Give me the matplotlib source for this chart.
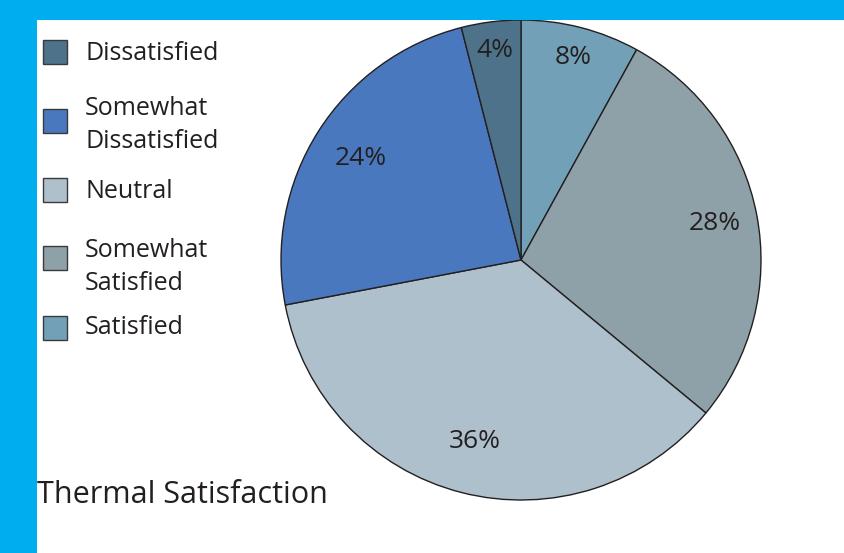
import matplotlib
matplotlib.use("Agg")
import matplotlib.pyplot as plt
from matplotlib.patches import Rectangle
import numpy as np

W, H = 844, 553
DPI = 100

# data (clockwise from top)
categories = ["Satisfied", "Somewhat Satisfied", "Neutral", "Somewhat Dissatisfied", "Dissatisfied"]
values = [8, 28, 36, 24, 4]
colors = ["#72a0b6", "#8fa1a8", "#adc0cc", "#4a78bf", "#4e7289"]

legend_order = ["Dissatisfied", "Somewhat\nDissatisfied", "Neutral", "Somewhat\nSatisfied", "Satisfied"]
legend_colors = ["#4e7289", "#4a78bf", "#adc0cc", "#8fa1a8", "#72a0b6"]
title = "Thermal Satisfaction"

plt.rcParams['font.family'] = ['Open Sans', 'DejaVu Sans']
TXT = "#231f20"

fig = plt.figure(figsize=(W / DPI, H / DPI), dpi=DPI, facecolor="white")

def fx(px):
    return px / W

def fy(py):
    return 1 - py / H

# blue frame (top and left)
fig.patches.append(Rectangle((0, fy(20)), 1, 20 / H, transform=fig.transFigure,
                             facecolor="#00aeef", edgecolor="none", zorder=0))
fig.patches.append(Rectangle((0, 0), fx(37), 1, transform=fig.transFigure,
                             facecolor="#00aeef", edgecolor="none", zorder=0))

# pie
cx, cy, R = 521, 260, 240
ax = fig.add_axes([fx(cx - R), fy(cy + R), 2 * R / W, 2 * R / H])
wedges, texts, autotexts = ax.pie(values, colors=colors, startangle=90, counterclock=False,
                                  autopct=lambda p: f"{p:.0f}%", pctdistance=0.82,
                                  wedgeprops=dict(edgecolor=TXT, linewidth=1.0),
                                  textprops=dict(fontsize=19, color=TXT))
dists = [0.87, 0.82, 0.78, 0.79, 0.88]
for t, d in zip(autotexts, dists):
    x, y = t.get_position()
    r = np.hypot(x, y)
    t.set_position((x / r * d, y / r * d))
ax.set_xlim(-1, 1)
ax.set_ylim(-1, 1)
ax.set_aspect("equal")
ax.axis("off")

# legend
sq_centers = [52, 121, 190, 258, 328]
baselines = [60, 148, 198, 290, 334]  # baseline of last line
for lab, col, sc, bl in zip(legend_order, legend_colors, sq_centers, baselines):
    fig.patches.append(Rectangle((fx(43), fy(sc + 12)), 24 / W, 24 / H, transform=fig.transFigure,
                                 facecolor=col, edgecolor="#3a3a3a", linewidth=1.0))
    fig.text(fx(85), fy(bl), lab, fontsize=18, color=TXT, va="baseline", ha="left",
             linespacing=1.42)

fig.text(fx(37), fy(503), title, fontsize=22, color=TXT, va="baseline", ha="left")

fig.savefig("out.png", dpi=DPI, facecolor="white")
